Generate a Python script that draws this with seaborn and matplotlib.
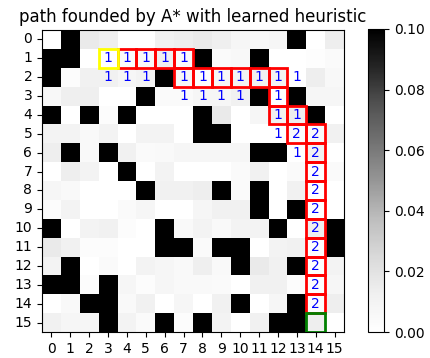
import numpy as np
import pandas as pd
import matplotlib
matplotlib.use("Agg")
import matplotlib.pyplot as plt
import seaborn as sns
from matplotlib.patches import Rectangle

W = 0.1
rows = list(range(16))
cols = list(range(16))

grid = [
    [0, W, .016, .013, 0, 0, .012, .014, .016, .013, .008, .006, .008, W, 0, .014],
    [W, W, 0, 0, .004, .006, .014, .004, W, .004, .006, W, 0, 0, .002, .004],
    [W, .003, .012, .012, .008, .01, W, .008, .002, .008, .01, .012, .01, 0, .014, .006],
    [.006, .013, .013, 0, 0, W, .004, .004, .008, .008, .012, W, 0, W, .008, .008],
    [W, 0, W, .003, W, 0, 0, 0, W, .016, 0, .008, .012, .014, W, 0],
    [.01, .01, .005, .01, 0, .01, .01, 0, W, W, 0, 0, 0, .004, .005, .012],
    [.014, W, .005, W, .012, .004, .005, .008, .008, .008, .008, W, W, 0, .012, 0],
    [0, .014, .01, 0, W, 0, .01, 0, 0, 0, .004, .012, 0, .004, .002, .004],
    [.008, .005, 0, 0, 0, W, .012, .012, .014, W, .004, W, 0, .012, 0, 0],
    [.003, .01, 0, 0, .004, .008, 0, 0, .008, .012, .012, W, 0, W, 0, 0],
    [W, 0, .01, .012, .003, 0, W, .005, .01, .005, .01, .01, W, 0, .014, W],
    [.016, .012, .003, .003, 0, 0, W, W, .004, W, W, 0, .01, .012, .002, W],
    [.01, W, 0, .004, 0, .01, .008, .005, .013, .005, W, .016, .012, W, .002, .01],
    [W, W, .003, W, .008, .003, .008, .005, .005, .004, 0, .012, .012, .003, .002, .008],
    [0, .005, W, W, .005, .012, 0, .008, 0, .012, W, 0, .008, W, .002, .014],
    [.012, .008, .008, W, .01, .004, W, .003, W, .01, 0, .012, W, W, .014, 0],
]

# cells with a step label: (row, col, label)
label_row = [1, 1, 1, 1, 1,
             2, 2, 2, 2, 2, 2, 2, 2, 2, 2,
             3, 3, 3, 3, 3,
             4, 4,
             5, 5, 5,
             6, 6,
             7, 8, 9, 10, 11, 12, 13, 14]
label_col = [3, 4, 5, 6, 7,
             3, 4, 5, 7, 8, 9, 10, 11, 12, 13,
             7, 8, 9, 10, 12,
             12, 13,
             12, 13, 14,
             13, 14,
             14, 14, 14, 14, 14, 14, 14, 14]
label_txt = ["1", "1", "1", "1", "1",
             "1", "1", "1", "1", "1", "1", "1", "1", "1", "1",
             "1", "1", "1", "1", "1",
             "1", "1",
             "1", "2", "2",
             "1", "2",
             "2", "2", "2", "2", "2", "2", "2", "2"]

# path cells (row, col)
path_row = [1, 1, 1, 1, 2, 2, 2, 2, 2, 2, 3, 4, 4, 5, 5, 6, 7, 8, 9, 10, 11, 12, 13, 14]
path_col = [4, 5, 6, 7, 7, 8, 9, 10, 11, 12, 12, 12, 13, 13, 14, 14, 14, 14, 14, 14, 14, 14, 14, 14]
start = (1, 3)
goal = (15, 14)

df = pd.DataFrame(grid, index=rows, columns=cols)
annot = np.full((16, 16), "", dtype=object)
for r, c, t in zip(label_row, label_col, label_txt):
    annot[r, c] = t

fig = plt.figure(figsize=(4.31, 3.58), dpi=100)
ax = fig.add_axes([42 / 431, 1 - 332 / 358, 302 / 431, 302 / 358])
cax = fig.add_axes([368 / 431, 1 - 332 / 358, 16 / 431, 303 / 358])

sns.heatmap(df, ax=ax, cbar_ax=cax, cmap="Greys", vmin=0, vmax=0.1,
            annot=annot, fmt="", annot_kws={"color": "blue", "fontsize": 10})

for s in ax.spines.values():
    s.set_visible(True)
    s.set_linewidth(0.8)
    s.set_color("black")
cax.tick_params(labelsize=10)
cb = ax.collections[0].colorbar
cb.outline.set_visible(True)
cb.outline.set_linewidth(0.8)
cb.set_ticks([0, 0.02, 0.04, 0.06, 0.08, 0.10])
cb.set_ticklabels(["0.00", "0.02", "0.04", "0.06", "0.08", "0.10"])

for r, c in zip(path_row, path_col):
    ax.add_patch(Rectangle((c, r), 1, 1, fill=False, edgecolor="red", lw=2, zorder=5))
ax.add_patch(Rectangle((start[1], start[0]), 1, 1, fill=False, edgecolor="yellow", lw=2, zorder=6))
ax.add_patch(Rectangle((goal[1], goal[0]), 1, 1, fill=False, edgecolor="green", lw=2, zorder=6))

ax.set_xticks(np.arange(16) + 0.5)
ax.set_xticklabels([str(c) for c in cols], rotation=0, fontsize=10)
ax.set_yticks(np.arange(16) + 0.5)
ax.set_yticklabels([str(r) for r in rows], rotation=0, fontsize=10)
ax.set_title("path founded by A* with learned heuristic", fontsize=12)

fig.savefig("out.png", dpi=100)
